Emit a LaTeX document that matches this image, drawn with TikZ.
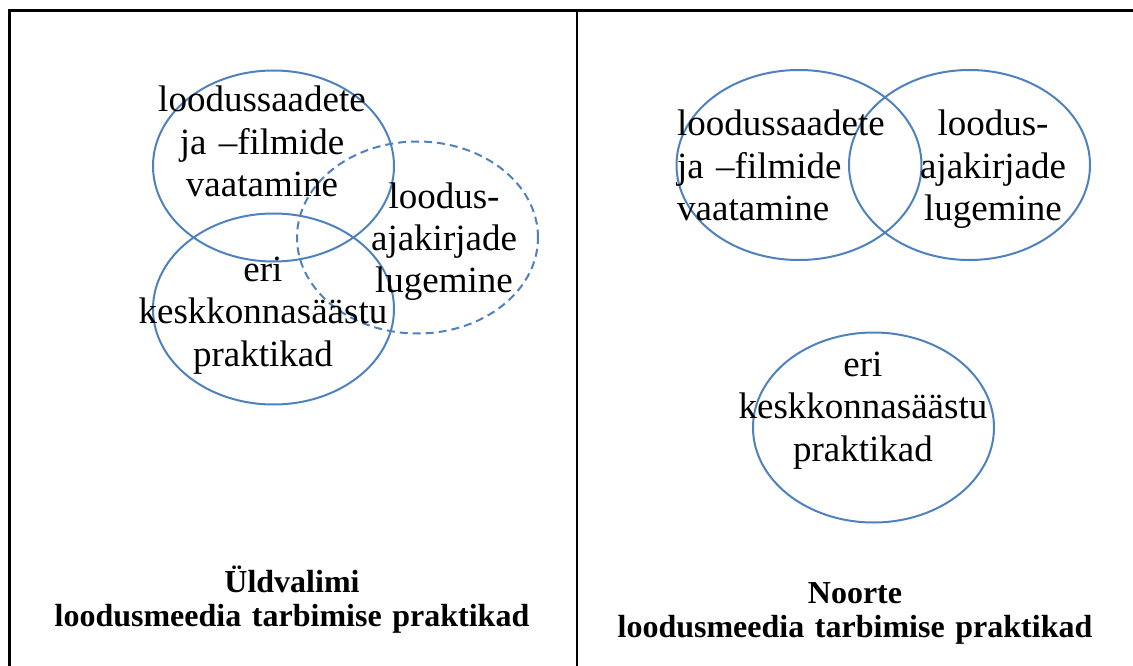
\documentclass[tikz,border=0pt]{standalone}
\usepackage{fontspec}
\setmainfont{Liberation Serif}
\usetikzlibrary{shapes.geometric}
\definecolor{vennblue}{HTML}{4F81BD}
\tikzset{
  venn/.style={ellipse, draw=vennblue, line width=2pt, inner sep=0pt, minimum width=241pt, minimum height=191pt},
  venndash/.style={venn, dash pattern=on 8pt off 5pt},
  lbl/.style={inner sep=0pt, anchor=base, text width=260pt, align=center, font=\fontsize{37}{42.5}\selectfont},
  lblleft/.style={lbl, anchor=base west, align=left},
  captext/.style={inner sep=0pt, anchor=base, text width=540pt, align=center, font=\fontsize{32}{34}\selectfont\bfseries},
  tablerule/.style={line width=2.7pt, black}
}
\begin{document}
\begin{tikzpicture}[x=1pt,y=-1pt]
\useasboundingbox (0,0) rectangle (1133,666);
% table lines
\coordinate (tl) at (8,10.3);
\coordinate (tr) at (1133,10.3);
\coordinate (lb) at (9.3,666);
\coordinate (lt) at (9.3,9);
\coordinate (mt) at (577,9);
\coordinate (mb) at (577,666);
\draw[tablerule] (tl) -- (tr);
\draw[tablerule] (lt) -- (lb);
\draw[tablerule] (mt) -- (mb);
% left cell ellipses
\node[venn] (A) at (273.5,166) {};
\node[venn] (B) at (273.5,309) {};
\node[venndash, minimum height=192pt] (C) at (417.5,237.5) {};
% right cell ellipses
\node[venn, minimum width=245pt, minimum height=190pt] (D) at (799,165) {};
\node[venn, minimum height=190pt] (E) at (969.5,165) {};
\node[venn, minimum height=190pt] (F) at (873.5,427.5) {};
% labels
\node[lbl] (tA) at (262,112) {loodussaadete\\ja –filmide\\vaatamine};
\node[lbl] (tB) at (263,281) {eri\\keskkonnasäästu\\praktikad};
\node[lbl] (tC) at (444,208) {loodus-\\ajakirjade\\lugemine};
\node[lblleft] (tD) at (677,136) {loodussaadete\\ja –filmide\\vaatamine};
\node[lbl] (tE) at (993,136) {loodus-\\ajakirjade\\lugemine};
\node[lbl] (tF) at (863,376) {eri\\keskkonnasäästu\\praktikad};
% captions
\node[captext] (capL) at (292,592) {Üldvalimi\\loodusmeedia tarbimise praktikad};
\node[captext] (capR) at (855,603) {Noorte\\loodusmeedia tarbimise praktikad};
\end{tikzpicture}
\end{document}
